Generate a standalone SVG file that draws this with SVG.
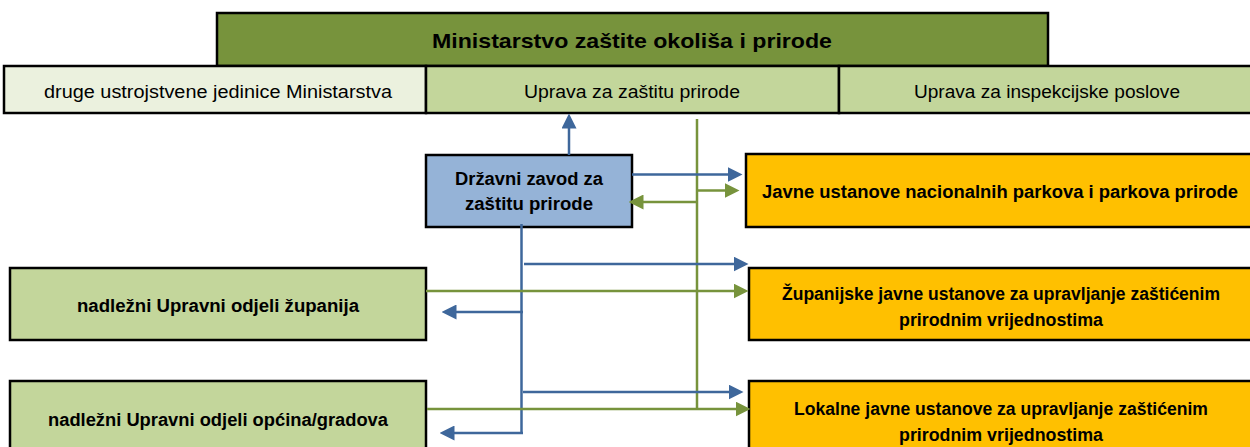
<svg xmlns="http://www.w3.org/2000/svg" width="1250" height="447" viewBox="0 0 1250 447">
<defs>
<style>
.box{stroke:#000;stroke-width:2.5}
.t{font-family:"Liberation Sans",Arial,sans-serif;fill:#000;text-anchor:middle}
.b{font-weight:bold}
.blue{stroke:#3E679B;stroke-width:2.5;fill:none}
.green{stroke:#77933C;stroke-width:2.5;fill:none}
</style>
<marker id="ab" markerWidth="6" markerHeight="6" refX="1" refY="3" orient="auto" markerUnits="strokeWidth"><path d="M0,0 L6,3 L0,6 Z" fill="#3E679B"/></marker>
<marker id="ag" markerWidth="6" markerHeight="6" refX="1" refY="3" orient="auto" markerUnits="strokeWidth"><path d="M0,0 L6,3 L0,6 Z" fill="#77933C"/></marker>
</defs>
<rect width="1250" height="447" fill="#fff"/>
<g id="ministarstvo"><rect class="box" x="217" y="13" width="831" height="53" fill="#77933C"/><text class="t b" x="632" y="48" font-size="21" textLength="400" lengthAdjust="spacingAndGlyphs">Ministarstvo zaštite okoliša i prirode</text></g>
<g id="druge"><rect class="box" x="4" y="66" width="422" height="47" fill="#EBF1DE"/><text class="t" x="218" y="98" font-size="17.5" textLength="348" lengthAdjust="spacingAndGlyphs">druge ustrojstvene jedinice Ministarstva</text></g>
<g id="uprava-priroda"><rect class="box" x="426" y="66" width="413" height="47" fill="#C3D69B"/><text class="t" x="632" y="98" font-size="17.5" textLength="216" lengthAdjust="spacingAndGlyphs">Uprava za zaštitu prirode</text></g>
<g id="uprava-inspekcija"><rect class="box" x="839" y="66" width="415" height="47" fill="#C3D69B"/><text class="t" x="1047" y="98" font-size="17.5" textLength="266" lengthAdjust="spacingAndGlyphs">Uprava za inspekcijske poslove</text></g>
<g id="zavod"><rect class="box" x="426" y="155" width="206" height="72" fill="#95B3D7"/><text class="t b" x="529" y="185" font-size="17.5" textLength="148" lengthAdjust="spacingAndGlyphs">Državni zavod za</text><text class="t b" x="529" y="210" font-size="17.5" textLength="128" lengthAdjust="spacingAndGlyphs">zaštitu prirode</text></g>
<g id="javne-np"><rect class="box" x="746" y="154" width="508" height="73" fill="#FFC000"/><text class="t b" x="1000" y="198" font-size="17.5" textLength="476" lengthAdjust="spacingAndGlyphs">Javne ustanove nacionalnih parkova i parkova prirode</text></g>
<g id="zupanijske"><rect class="box" x="749" y="268" width="505" height="72" fill="#FFC000"/><text class="t b" x="1001" y="300" font-size="17.5" textLength="438" lengthAdjust="spacingAndGlyphs">Županijske javne ustanove za upravljanje zaštićenim</text><text class="t b" x="1001" y="326" font-size="17.5" textLength="204" lengthAdjust="spacingAndGlyphs">prirodnim vrijednostima</text></g>
<g id="lokalne"><rect class="box" x="749" y="381" width="505" height="72" fill="#FFC000"/><text class="t b" x="1001" y="415" font-size="17.5" textLength="414" lengthAdjust="spacingAndGlyphs">Lokalne javne ustanove za upravljanje zaštićenim</text><text class="t b" x="1001" y="441" font-size="17.5" textLength="204" lengthAdjust="spacingAndGlyphs">prirodnim vrijednostima</text></g>
<g id="odjeli-zupanija"><rect class="box" x="10" y="268" width="416" height="72" fill="#C3D69B"/><text class="t b" x="218" y="312" font-size="17.5" textLength="282" lengthAdjust="spacingAndGlyphs">nadležni Upravni odjeli županija</text></g>
<g id="odjeli-opcina"><rect class="box" x="10" y="381" width="416" height="72" fill="#C3D69B"/><text class="t b" x="218" y="426" font-size="17.5" textLength="340" lengthAdjust="spacingAndGlyphs">nadležni Upravni odjeli općina/gradova</text></g>
<g id="connectors">
<path class="blue" d="M569,155 V126" marker-end="url(#ab)"/>
<path class="green" d="M697,119 V410"/>
<path class="blue" d="M632,174.5 H730" marker-end="url(#ab)"/>
<path class="green" d="M697,190.5 H727" marker-end="url(#ag)"/>
<path class="green" d="M697,202 H641" marker-end="url(#ag)"/>
<path class="blue" d="M521.5,224 V433"/>
<path class="blue" d="M524,264 H736" marker-end="url(#ab)"/>
<path class="green" d="M426,291 H736" marker-end="url(#ag)"/>
<path class="blue" d="M523,312 H454" marker-end="url(#ab)"/>
<path class="blue" d="M523,392 H731" marker-end="url(#ab)"/>
<path class="green" d="M427,409 H738" marker-end="url(#ag)"/>
<path class="blue" d="M523,433 H452" marker-end="url(#ab)"/>
</g>
</svg>
